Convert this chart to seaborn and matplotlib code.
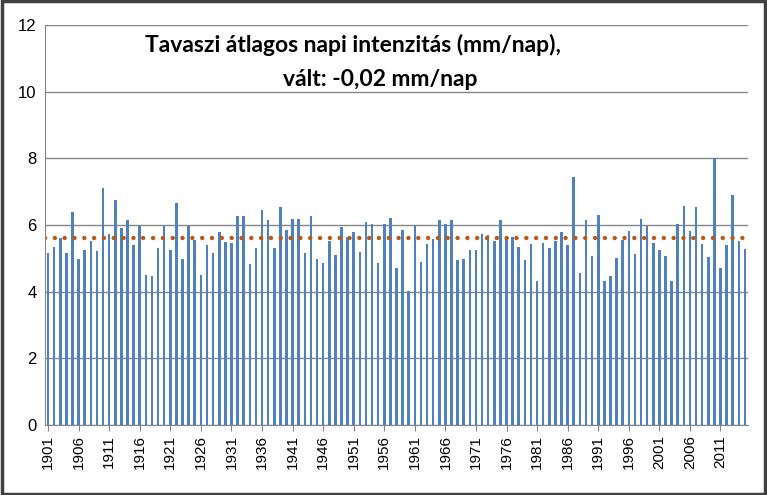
import numpy as np
import pandas as pd
import seaborn as sns
import matplotlib
matplotlib.use("Agg")
import matplotlib.pyplot as plt

years = list(range(1901, 2016))
values = [5.17,5.34,5.6,5.16,6.39,4.98,5.25,5.52,5.22,7.11,5.73,6.75,5.91,6.15,5.4,5.98,4.5,4.47,5.31,5.98,
          5.25,6.66,4.98,5.98,5.55,4.5,5.4,5.16,5.79,5.49,5.46,6.27,6.27,4.83,5.31,6.45,6.15,5.31,6.54,5.85,
          6.18,6.18,5.16,6.27,4.98,4.86,5.52,5.1,5.94,5.64,5.79,5.19,6.09,6.03,4.86,6.03,6.21,4.71,5.85,4.02,
          6.0,4.89,5.43,5.58,6.15,6.03,6.15,4.95,4.98,5.25,5.25,5.73,5.7,5.52,6.15,5.64,5.64,5.34,4.95,5.43,
          4.32,5.46,5.31,5.52,5.79,5.4,7.44,4.56,6.15,5.07,6.3,4.32,4.47,5.01,5.55,5.82,5.13,6.18,5.97,5.46,
          5.25,5.07,4.32,6.03,6.57,5.82,6.54,5.43,5.04,8.0,4.71,5.4,6.9,5.52,5.28]
mean_value = 5.6
title_line1 = "Tavaszi átlagos napi intenzitás (mm/nap),"
title_line2 = "vált: -0,02 mm/nap"

df = pd.DataFrame({"year": [str(y) for y in years], "value": values})

fig = plt.figure(figsize=(7.67, 4.95), dpi=100)
fig.patches.append(plt.Rectangle((0.002, 0.003), 0.996, 0.994, transform=fig.transFigure,
                                 fill=False, edgecolor="#404040", linewidth=2.5))
ax = fig.add_axes([45/767, 70/495, 703/767, 400/495])
sns.barplot(data=df, x="year", y="value", color="#4F81BD", width=0.42, saturation=1, ax=ax)
ax.plot([-0.5, len(years) - 0.5], [mean_value, mean_value], linestyle=(0, (0.01, 2.2)),
        color="#B85A1C", linewidth=3.2, dash_capstyle="round")
ax.set_xlim(-0.5, len(years) - 0.5)
ax.set_ylim(0, 12)
ax.set_yticks(range(0, 13, 2))
ax.yaxis.grid(True, color="#868686", linewidth=1)
ax.set_axisbelow(True)
ticks = list(range(0, len(years), 5))
ax.set_xticks(ticks)
ax.set_xticklabels([str(years[i]) for i in ticks], rotation=90, fontsize=11, fontfamily="Liberation Sans")
for lab in ax.get_yticklabels():
    lab.set_fontsize(12); lab.set_fontfamily("Liberation Sans")
ax.tick_params(axis="y", length=0, pad=6)
ax.tick_params(axis="x", length=4, color="#868686")
ax.set_xlabel(""); ax.set_ylabel("")
for s in ["top", "right"]:
    ax.spines[s].set_visible(False)
ax.spines["left"].set_color("#868686")
ax.spines["bottom"].set_color("#868686")
fig.text(145/767, 1 - 45/495, title_line1, ha="left", va="center", fontsize=16.5,
         fontweight="bold", fontfamily="Lato")
fig.text(283/767, 1 - 80/495, title_line2, ha="left", va="center", fontsize=16.5,
         fontweight="bold", fontfamily="Lato")
fig.savefig("out.png", dpi=100)
